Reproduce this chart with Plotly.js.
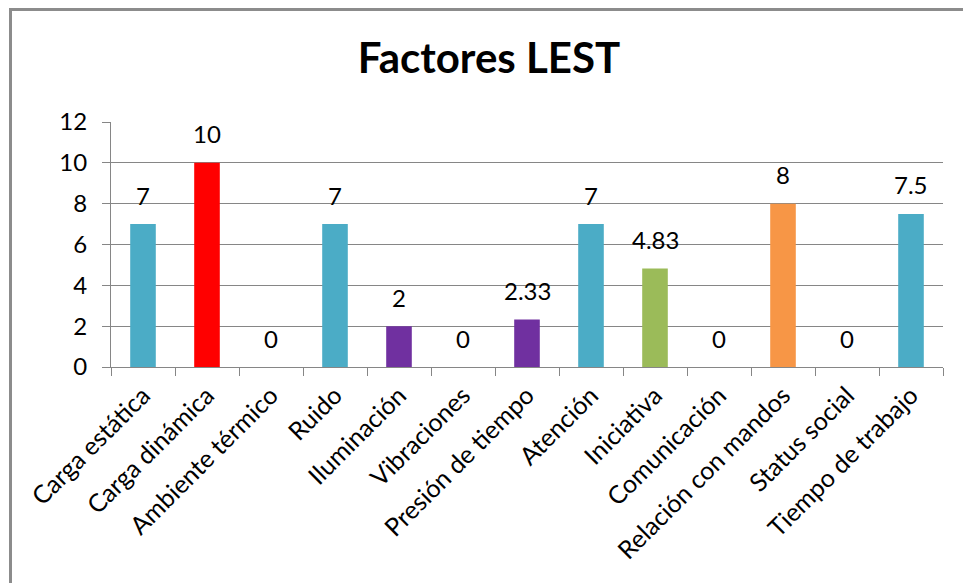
<!DOCTYPE html>
<html>
<head>
<meta charset="utf-8">
<script src="https://cdn.plot.ly/plotly-3.0.1.min.js"></script>
<style>
  html, body { margin: 0; padding: 0; background: #ffffff; overflow: hidden; }
  #chart { width: 963px; height: 583px; position: absolute; left: 0; top: 0; }
  #frame { position: absolute; left: 9px; top: 8px; width: 1200px; height: 1000px;
           border-left: 3px solid #8c8c8c; border-top: 3px solid #8c8c8c;
           pointer-events: none; z-index: 5; box-sizing: border-box; }
</style>
</head>
<body>
<div id="chart"></div>
<div id="frame"></div>
<script>
const categories = ["Carga estática", "Carga dinámica", "Ambiente térmico", "Ruido", "Iluminación",
  "Vibraciones", "Presión de tiempo", "Atención", "Iniciativa", "Comunicación",
  "Relación con mandos", "Status social", "Tiempo de trabajo"];
const values = [7, 10, 0, 7, 2, 0, 2.33, 7, 4.83, 0, 8, 0, 7.5];
const valueLabels = ["7", "10", "0", "7", "2", "0", "2.33", "7", "4.83", "0", "8", "0", "7.5"];
const barColors = ["#4BACC6", "#FF0000", "#4BACC6", "#4BACC6", "#7030A0", "#7030A0", "#7030A0",
  "#4BACC6", "#9BBB59", "#9BBB59", "#F79646", "#4BACC6", "#4BACC6"];
const yTicks = [0, 2, 4, 6, 8, 10, 12];

const font = "Lato, Calibri, 'Open Sans', sans-serif";
const gray = "#868686";

const trace = {
  type: "bar",
  x: categories,
  y: values,
  marker: { color: barColors, line: { width: 0 } },
  hoverinfo: "x+y"
};

const annotations = categories.map((c, i) => ({
  x: c, y: values[i], xref: "x", yref: "y",
  text: valueLabels[i], showarrow: false,
  yanchor: "middle", yshift: 29,
  font: { family: font, size: 24, color: "#000000" }
}));

const layout = {
  width: 963, height: 583,
  margin: { l: 111, r: 20, t: 122, b: 216 },
  paper_bgcolor: "#ffffff", plot_bgcolor: "#ffffff",
  bargap: 0.6,
  showlegend: false,
  title: {
    text: "<b>Factores LEST</b>",
    font: { family: font, size: 42, color: "#000000" },
    x: 489 / 963, xanchor: "center", xref: "container",
    y: 1 - 58 / 583, yanchor: "middle", yref: "container"
  },
  xaxis: {
    type: "category",
    tickangle: -45,
    showgrid: false,
    showline: true, linecolor: gray, linewidth: 1,
    ticks: "outside", tickson: "boundaries", ticklen: 8, tickcolor: gray, tickwidth: 1,
    tickfont: { family: font, size: 25, color: "#000000" },
    ticklabelstandoff: 3,
    zeroline: false,
    fixedrange: true
  },
  yaxis: {
    range: [0, 12],
    tickvals: yTicks,
    ticktext: yTicks.map(String),
    showgrid: true, gridcolor: gray, gridwidth: 1,
    showline: true, linecolor: gray, linewidth: 1,
    ticks: "outside", ticklen: 8, tickcolor: gray, tickwidth: 1,
    tickfont: { family: font, size: 24, color: "#000000" },
    ticklabelstandoff: 10,
    zeroline: false,
    fixedrange: true
  },
  annotations: annotations
};

Plotly.newPlot("chart", [trace], layout, { displayModeBar: false, staticPlot: true });
</script>
</body>
</html>
